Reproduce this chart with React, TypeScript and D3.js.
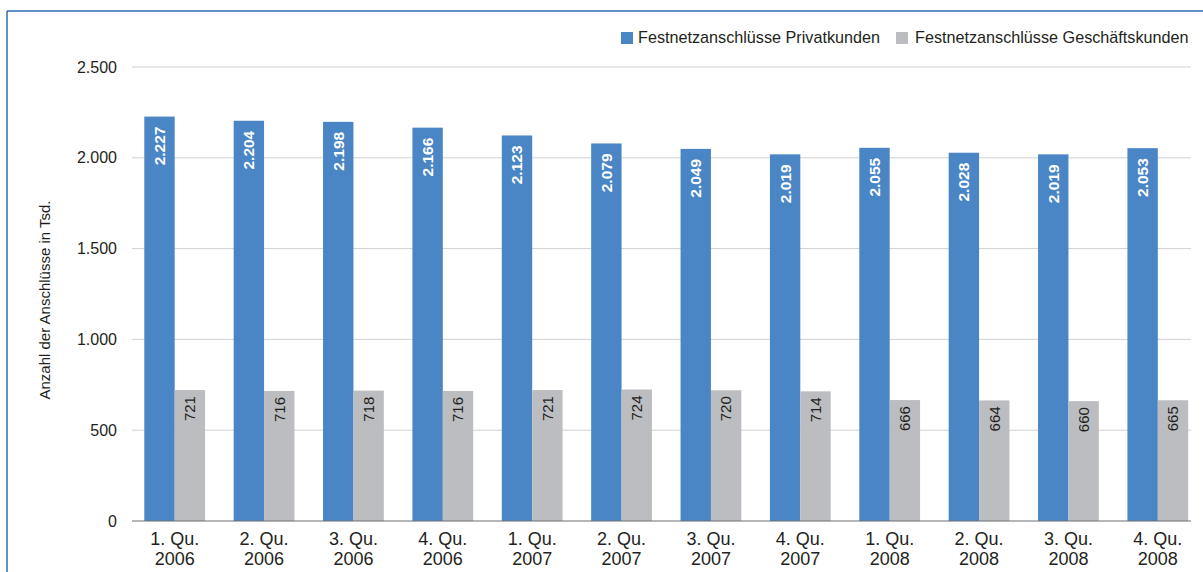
import * as d3 from 'd3'

const quarters = ['1. Qu.', '2. Qu.', '3. Qu.', '4. Qu.', '1. Qu.', '2. Qu.', '3. Qu.', '4. Qu.', '1. Qu.', '2. Qu.', '3. Qu.', '4. Qu.']
const years = ['2006', '2006', '2006', '2006', '2007', '2007', '2007', '2007', '2008', '2008', '2008', '2008']
const privat = [2227, 2204, 2198, 2166, 2123, 2079, 2049, 2019, 2055, 2028, 2019, 2053]
const geschaeft = [721, 716, 718, 716, 721, 724, 720, 714, 666, 664, 660, 665]
const yTicks = [0, 500, 1000, 1500, 2000, 2500]
const seriesNames = ['Festnetzanschlüsse Privatkunden', 'Festnetzanschlüsse Geschäftskunden']

const BLUE = '#4a85c5'
const GRAY = '#bcbdc0'
const TEXT = '#231f20'
const FONT = '"Liberation Sans", Arial, sans-serif'

const fmt = (v: number) => d3.format(',')(v).replace(/,/g, '.')

export default function App() {
  const width = 1203
  const height = 572
  const gridLeft = 132
  const gridRight = 1191

  const x = d3.scaleBand<number>()
    .domain(d3.range(quarters.length))
    .range([130, 1202.5])
    .paddingInner(0.32)
    .paddingOuter(0.16)
  const sub = d3.scaleBand<number>()
    .domain([0, 1])
    .range([0, x.bandwidth()])

  const y = d3.scaleLinear()
    .domain([0, 2500])
    .range([521, 67])

  return (
    <svg width={width} height={height} style={{ position: 'absolute', left: 0, top: 0, background: '#fff' }} fontFamily={FONT}>
      {/* frame */}
      <line x1={7} y1={11} x2={width} y2={11} stroke="#2b6cb3" strokeWidth={1.5} />
      <line x1={7} y1={11} x2={7} y2={height} stroke="#2b6cb3" strokeWidth={1.5} />

      {/* gridlines + y ticks */}
      {yTicks.map(t => (
        <g key={t}>
          {t > 0 && <line x1={gridLeft} x2={gridRight} y1={y(t)} y2={y(t)} stroke="#d0d0d0" strokeWidth={1} />}
          <text x={117} y={y(t)} dy="0.35em" textAnchor="end" fontSize={16} fill={TEXT}>{fmt(t)}</text>
        </g>
      ))}

      {/* axis title */}
      <text transform={`translate(50,${300}) rotate(-90)`} textAnchor="middle" fontSize={15} fill={TEXT}>
        Anzahl der Anschlüsse in Tsd.
      </text>

      {/* bars */}
      {quarters.map((_, i) => {
        const x0 = x(i)!
        const bx = x0 + sub(0)!
        const gx = x0 + sub(1)!
        const bw = sub.bandwidth()
        return (
          <g key={i}>
            <rect x={bx} y={y(privat[i])} width={bw} height={y(0) - y(privat[i])} fill={BLUE} />
            <rect x={gx} y={y(geschaeft[i])} width={bw} height={y(0) - y(geschaeft[i])} fill={GRAY} />
            <text transform={`translate(${bx + bw / 2},${y(privat[i]) + 10}) rotate(-90)`} textAnchor="end" dy="0.35em"
              fontSize={15.5} fill="#fff" fontWeight="bold">{fmt(privat[i])}</text>
            <text transform={`translate(${gx + bw / 2},${y(geschaeft[i]) + 6}) rotate(-90)`} textAnchor="end" dy="0.35em"
              fontSize={15} fill={TEXT}>{geschaeft[i]}</text>
          </g>
        )
      })}

      {/* x axis */}
      <line x1={gridLeft} x2={gridRight} y1={y(0)} y2={y(0)} stroke="#6d6e71" strokeWidth={1.2} />
      {quarters.map((q, i) => {
        const cx = x(i)! + x.bandwidth() / 2
        return (
          <text key={i} x={cx} textAnchor="middle" fontSize={18} fill={TEXT}>
            <tspan x={cx} y={545}>{q}</tspan>
            <tspan x={cx} y={565}>{years[i]}</tspan>
          </text>
        )
      })}

      {/* legend */}
      <rect x={621} y={32} width={12} height={12} fill={BLUE} />
      <text x={638} y={43} fontSize={16.2} fill={TEXT}>{seriesNames[0]}</text>
      <rect x={896} y={32} width={12} height={12} fill={GRAY} />
      <text x={915} y={43} fontSize={16.2} fill={TEXT}>{seriesNames[1]}</text>
    </svg>
  )
}
